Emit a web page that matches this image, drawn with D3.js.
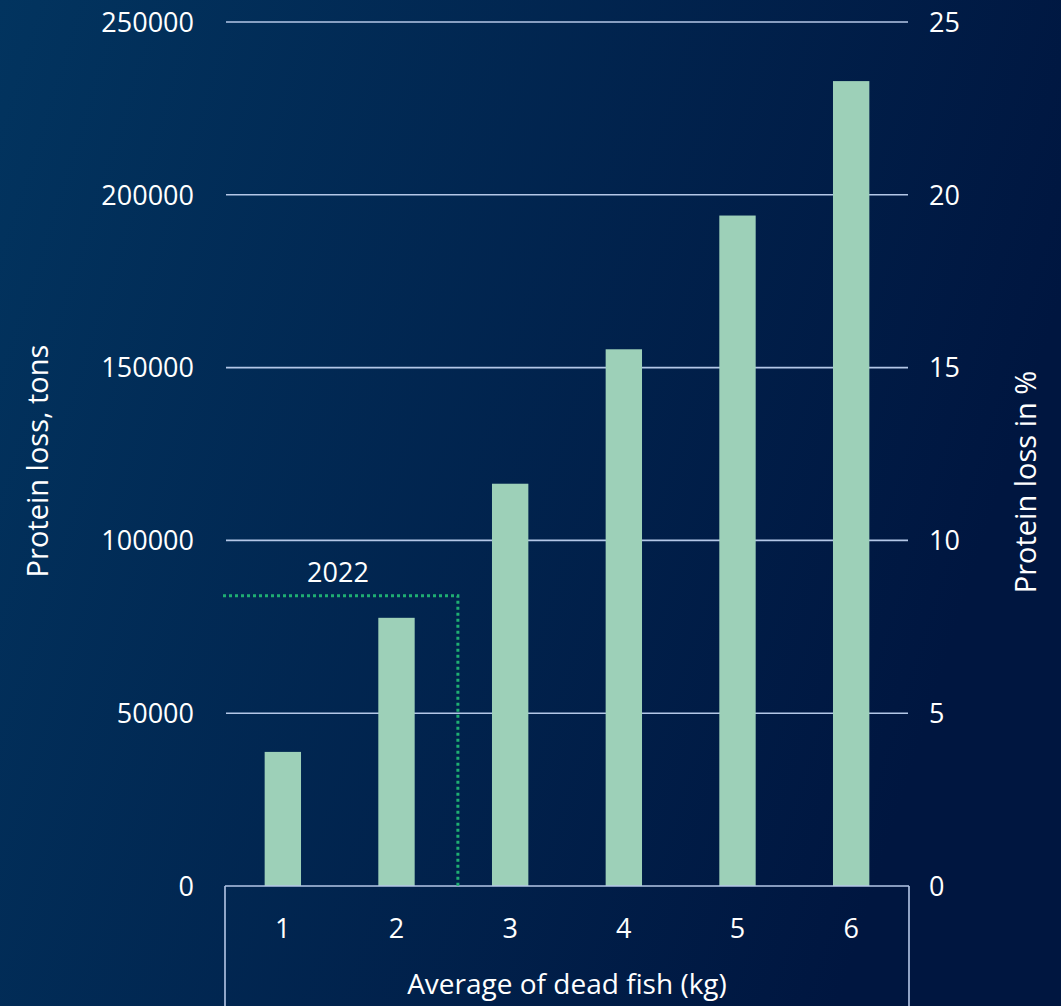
<!DOCTYPE html>
<html>
<head>
<meta charset="utf-8">
<script src="https://cdnjs.cloudflare.com/ajax/libs/d3/7.8.5/d3.min.js"></script>
<style>
  html, body { margin: 0; padding: 0; background: #002a55; }
  svg { display: block; }
  text { font-family: "Open Sans", "Noto Sans", sans-serif; fill: #ffffff; }
</style>
</head>
<body>
<svg id="chart" width="1061" height="1006"></svg>
<script>
// Average weight of dead fish (kg) and the resulting protein loss (tons)
const categories = [1, 2, 3, 4, 5, 6];
const proteinLossTons = [38800, 77600, 116400, 155300, 194000, 232900];
const leftTicks = [0, 50000, 100000, 150000, 200000, 250000];
const rightTicks = [0, 5, 10, 15, 20, 25];
// 2022 reference point: average dead fish weight and protein loss
const marker2022 = { label: "2022", kg: 2.54, tons: 84000 };

const svg = d3.select("#chart");
const W = 1061, H = 1006;
const plot = { left: 226, right: 908, top: 22, bottom: 886 };
const tickFont = 27, titleFont = 28;

// background gradient
const defs = svg.append("defs");
const grad = defs.append("linearGradient").attr("id", "bg")
  .attr("x1", "0%").attr("y1", "0%").attr("x2", "100%").attr("y2", "30%");
grad.append("stop").attr("offset", "0%").attr("stop-color", "#02345f");
grad.append("stop").attr("offset", "100%").attr("stop-color", "#001640");
svg.append("rect").attr("width", W).attr("height", H).attr("fill", "url(#bg)");

const x = d3.scaleBand().domain(categories).range([plot.left, plot.right])
  .paddingInner(0.68).paddingOuter(0.34);
const yL = d3.scaleLinear().domain([0, 250000]).range([plot.bottom, plot.top]);
const yR = d3.scaleLinear().domain([0, 25]).range([plot.bottom, plot.top]);
// continuous kg position aligned with band centres
const c1 = x(1) + x.bandwidth() / 2;
const kgX = d3.scaleLinear().domain([1, 2]).range([c1, c1 + x.step()]);

const lineColor = "#b4c7e7";

// gridlines
svg.append("g").selectAll("line").data(leftTicks.slice(1)).join("line")
  .attr("x1", plot.left).attr("x2", plot.right)
  .attr("y1", d => yL(d)).attr("y2", d => yL(d))
  .attr("stroke", lineColor).attr("stroke-width", 1.6);

// bars
svg.append("g").selectAll("rect").data(categories).join("rect")
  .attr("x", d => x(d))
  .attr("width", x.bandwidth())
  .attr("y", (d, i) => yL(proteinLossTons[i]))
  .attr("height", (d, i) => plot.bottom - yL(proteinLossTons[i]))
  .attr("fill", "#9dd0b8");

// category axis box
const box = svg.append("g").attr("stroke", lineColor).attr("stroke-width", 1.6).attr("fill", "none");
box.append("line").attr("x1", plot.left - 1).attr("x2", plot.right + 1)
  .attr("y1", plot.bottom).attr("y2", plot.bottom);
box.append("line").attr("x1", plot.left - 1).attr("x2", plot.left - 1)
  .attr("y1", plot.bottom).attr("y2", H);
box.append("line").attr("x1", plot.right + 1).attr("x2", plot.right + 1)
  .attr("y1", plot.bottom).attr("y2", H);

// left axis labels
svg.append("g").selectAll("text").data(leftTicks).join("text")
  .attr("x", 194).attr("y", d => yL(d))
  .attr("dy", "0.36em").attr("text-anchor", "end")
  .attr("font-size", tickFont).text(d => d);

// right axis labels
svg.append("g").selectAll("text").data(rightTicks).join("text")
  .attr("x", 929).attr("y", d => yR(d))
  .attr("dy", "0.36em").attr("text-anchor", "start")
  .attr("font-size", tickFont).text(d => d);

// category labels
svg.append("g").selectAll("text").data(categories).join("text")
  .attr("x", d => x(d) + x.bandwidth() / 2).attr("y", 928)
  .attr("dy", "0.36em").attr("text-anchor", "middle")
  .attr("font-size", tickFont).text(d => d);

// axis titles
svg.append("text").attr("x", (plot.left + plot.right) / 2).attr("y", 994)
  .attr("text-anchor", "middle").attr("font-size", titleFont)
  .text("Average of dead fish (kg)");
svg.append("text").attr("transform", "translate(38,461) rotate(-90)")
  .attr("dy", "0.36em").attr("text-anchor", "middle").attr("font-size", 29)
  .text("Protein loss, tons");
svg.append("text").attr("transform", "translate(1026,482) rotate(-90)")
  .attr("dy", "0.36em").attr("text-anchor", "middle").attr("font-size", 29)
  .text("Protein loss in %");

// 2022 dotted reference lines
const mx = kgX(marker2022.kg), my = yL(marker2022.tons);
svg.append("path")
  .attr("d", `M${plot.left - 3},${my} H${mx} V${plot.bottom}`)
  .attr("fill", "none").attr("stroke", "#1fae72").attr("stroke-width", 3)
  .attr("stroke-dasharray", "3,3");
svg.append("text").attr("x", 338).attr("y", my - 23)
  .attr("dy", "0.36em").attr("text-anchor", "middle").attr("font-size", tickFont)
  .text(marker2022.label);
</script>
</body>
</html>
